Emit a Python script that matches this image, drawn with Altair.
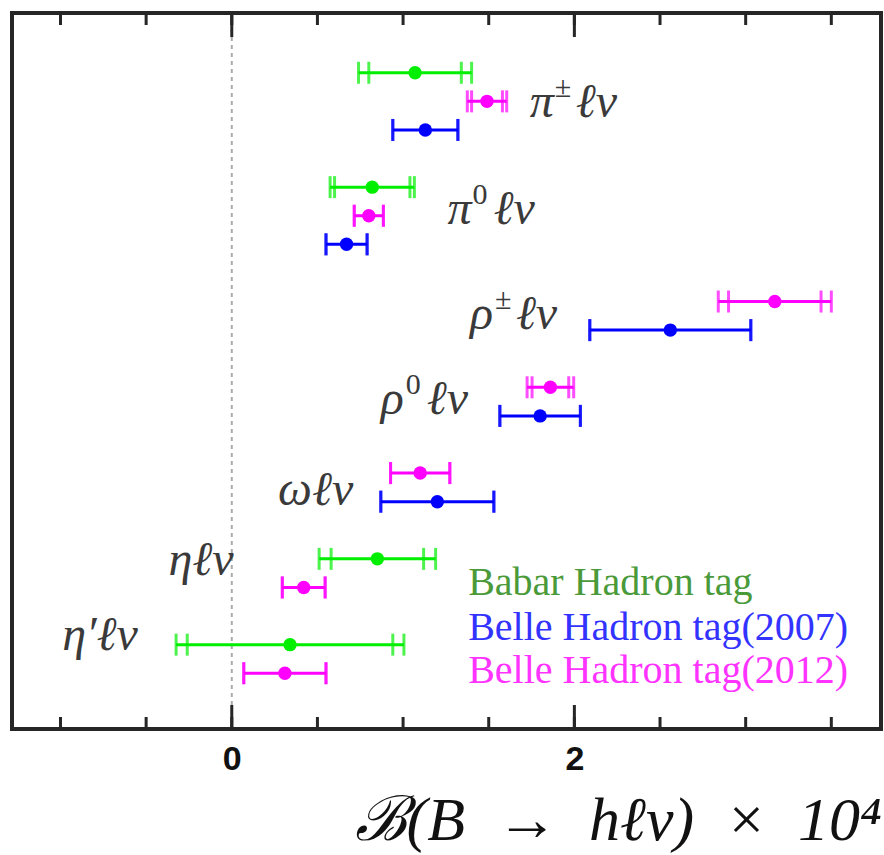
import altair as alt
import pandas as pd

# ---- data ----
modes   = ["pi+", "pi+", "pi+", "pi0", "pi0", "pi0", "rho+", "rho+", "rho0", "rho0",
           "omega", "omega", "eta", "eta", "etap", "etap"]
exps    = ["Babar", "Belle2012", "Belle2007", "Babar", "Belle2012", "Belle2007",
           "Belle2012", "Belle2007", "Belle2012", "Belle2007", "Belle2012", "Belle2007",
           "Babar", "Belle2012", "Babar", "Belle2012"]
slots   = [0, 1, 2, 4, 5, 6, 8, 9, 11, 12, 14, 15, 17, 18, 20, 21]
centers = [1.07, 1.49, 1.13, 0.82, 0.80, 0.67, 3.17, 2.56, 1.86, 1.80, 1.10, 1.20, 0.85, 0.42, 0.34, 0.31]
stat    = [0.27, 0.09, 0.19, 0.22, 0.085, 0.12, 0.27, 0.47, 0.107, 0.235, 0.173, 0.33, 0.27, 0.125, 0.60, 0.24]
total   = [0.33, 0.115, 0.19, 0.246, 0.085, 0.12, 0.33, 0.47, 0.136, 0.235, 0.173, 0.33, 0.34, 0.125, 0.665, 0.24]

exp_domain = ["Babar", "Belle2007", "Belle2012"]
exp_colors = ["#00ee00", "#0000ff", "#ff00ff"]

tick_vals  = [-1.0, -0.5, 0.0, 0.5, 1.0, 1.5, 2.0, 2.5, 3.0, 3.5]
major_vals = [0.0, 2.0]

# mode labels with superscripts
sup_base  = ["π", "π", "ρ", "ρ"]
sup_sup   = ["±", "0", "±", "0"]
sup_x     = [1.74, 1.26, 1.39, 0.87]
sup_slot  = [1.55, 5.28, 8.95, 11.95]
plain_lab  = ["ωℓν", "ηℓν", "η′ℓν"]
plain_x    = [0.27, -0.37, -0.99]
plain_slot = [15.1, 17.55, 20.2]

leg_text  = ["Babar Hadron tag", "Belle Hadron tag(2007)", "Belle Hadron tag(2012)"]
leg_color = ["#4a9a3a", "#3333ff", "#ff33ff"]
leg_x     = [1.38, 1.38, 1.38]
leg_slot  = [18.26, 19.84, 21.34]

x_title = "ℬ(B\u2002→\u2002hℓν)\u2002×\u200210⁴"

XDOM = [-1.283, 3.79]
YDOM = [-2.09, 22.95]

# ---- tables ----
df = pd.DataFrame({"mode": modes, "exp": exps, "slot": slots, "c": centers,
                   "stat": stat, "tot": total})
df["lo"] = df["c"] - df["tot"]
df["hi"] = df["c"] + df["tot"]

caps = []
for _, r in df.iterrows():
    for v in (r.c - r.stat, r.c + r.stat, r.c - r.tot, r.c + r.tot):
        caps.append({"exp": r.exp, "slot": r.slot, "v": v})
caps = pd.DataFrame(caps)

ticks = pd.DataFrame({"t": tick_vals})
majors = pd.DataFrame({"t": major_vals})
sup_df = pd.DataFrame({"base": sup_base, "sup": sup_sup, "x": sup_x, "slot": sup_slot, "rest": ["ℓν"] * 4})
plain_df = pd.DataFrame({"lab": plain_lab, "x": plain_x, "slot": plain_slot})
leg_df = pd.DataFrame({"t": leg_text, "col": leg_color, "x": leg_x, "slot": leg_slot})

xs = alt.Scale(domain=XDOM, nice=False, zero=False)
ys = alt.Scale(domain=YDOM, nice=False, zero=False, reverse=True)
color = alt.Color("exp:N", scale=alt.Scale(domain=exp_domain, range=exp_colors), legend=None)

xaxis = alt.Axis(values=[0, 2], ticks=False, domain=False, grid=False,
                 labelFont="Liberation Sans", labelFontWeight="bold", labelFontSize=34,
                 labelColor="#111", labelPadding=13, format="d",
                 title=x_title, titleFont="Liberation Serif", titleFontStyle="italic",
                 titleFontWeight="normal", titleFontSize=62, titleColor="#111",
                 titleAnchor="end", titleAlign="right", titleBaseline="alphabetic",
                 titleX=869, titleY=110)

base = alt.Chart(df)
FRAME = "#262626"

zero_line = alt.Chart(pd.DataFrame({"z": [0.0]})).mark_rule(
    color="#aaaaaa", strokeDash=[4, 4], strokeWidth=2
).encode(x=alt.X("z:Q", scale=xs, axis=xaxis))

tick_top = alt.Chart(ticks).mark_rule(color=FRAME, strokeWidth=3).encode(
    x=alt.X("t:Q", scale=xs), y=alt.value(0), y2=alt.value(12))
tick_bot = alt.Chart(ticks).mark_rule(color=FRAME, strokeWidth=3).encode(
    x=alt.X("t:Q", scale=xs), y=alt.value(716), y2=alt.value(704))
maj_top = alt.Chart(majors).mark_rule(color=FRAME, strokeWidth=3).encode(
    x=alt.X("t:Q", scale=xs), y=alt.value(0), y2=alt.value(24))
maj_bot = alt.Chart(majors).mark_rule(color=FRAME, strokeWidth=3).encode(
    x=alt.X("t:Q", scale=xs), y=alt.value(716), y2=alt.value(692))

frame_h = alt.Chart(pd.DataFrame({"p": [0, 716]})).mark_rule(color=FRAME, strokeWidth=4).encode(
    x=alt.value(-2), x2=alt.value(871), y=alt.Y("p:Q", scale=None))
frame_v = alt.Chart(pd.DataFrame({"p": [0, 869]})).mark_rule(color=FRAME, strokeWidth=4).encode(
    y=alt.value(-2), y2=alt.value(718), x=alt.X("p:Q", scale=None))

bars = base.mark_rule(strokeWidth=3).encode(
    x=alt.X("lo:Q", scale=xs), x2="hi:Q",
    y=alt.Y("slot:Q", scale=ys, axis=None), color=color)

capmarks = alt.Chart(caps).mark_tick(orient="vertical", size=22, thickness=3).encode(
    x=alt.X("v:Q", scale=xs), y=alt.Y("slot:Q", scale=ys, axis=None), color=color)

points = base.mark_circle(size=180, opacity=1).encode(
    x=alt.X("c:Q", scale=xs), y=alt.Y("slot:Q", scale=ys, axis=None), color=color)

lab_font = "Liberation Serif"
lab_col = "#3a3a3a"
sup_a = alt.Chart(sup_df).mark_text(align="left", baseline="alphabetic", font=lab_font,
                                     fontStyle="italic", fontSize=48, color=lab_col).encode(
    x=alt.X("x:Q", scale=xs), y=alt.Y("slot:Q", scale=ys, axis=None), text="base:N")
sup_b = alt.Chart(sup_df).mark_text(align="left", baseline="alphabetic", font=lab_font,
                                     fontSize=30, color=lab_col, dx=25, dy=-20).encode(
    x=alt.X("x:Q", scale=xs), y=alt.Y("slot:Q", scale=ys, axis=None), text="sup:N")
sup_c = alt.Chart(sup_df).mark_text(align="left", baseline="alphabetic", font=lab_font,
                                     fontStyle="italic", fontSize=48, color=lab_col, dx=46).encode(
    x=alt.X("x:Q", scale=xs), y=alt.Y("slot:Q", scale=ys, axis=None), text="rest:N")
plain = alt.Chart(plain_df).mark_text(align="left", baseline="alphabetic", font=lab_font,
                                       fontStyle="italic", fontSize=48, color=lab_col).encode(
    x=alt.X("x:Q", scale=xs), y=alt.Y("slot:Q", scale=ys, axis=None), text="lab:N")

legend = alt.Chart(leg_df).mark_text(align="left", baseline="alphabetic", font=lab_font,
                                      fontSize=40).encode(
    x=alt.X("x:Q", scale=xs), y=alt.Y("slot:Q", scale=ys, axis=None), text="t:N",
    color=alt.Color("col:N", scale=None))

chart = alt.layer(
    zero_line, tick_top, tick_bot, maj_top, maj_bot, frame_h, frame_v, bars, capmarks, points,
    sup_a, sup_b, sup_c, plain, legend
).properties(
    width=869, height=716,
    autosize=alt.AutoSizeParams(type="none"),
    padding={"left": 12, "top": 13, "right": 3, "bottom": 126},
).configure_view(stroke=None).configure(background="white")

chart.save("out.html", embed_options={"renderer": "svg", "actions": False})
